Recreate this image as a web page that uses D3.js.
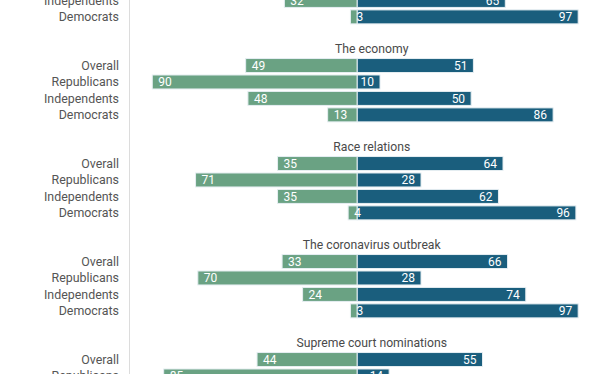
<!DOCTYPE html>
<html>
<head>
<meta charset="utf-8">
<script src="https://cdn.jsdelivr.net/npm/d3@7"></script>
<style>
  body { margin: 0; background: #fff; }
  svg { display: block; font-family: Roboto, "Open Sans", sans-serif; }
</style>
</head>
<body>
<div id="chart"></div>
<script>
// groups (the first title is above the visible area)
var groups = ["", "The economy", "Race relations", "The coronavirus outbreak", "Supreme court nominations"];
var categories = ["Overall", "Republicans", "Independents", "Democrats"];

// left (green) and right (blue) shares, per group, per category; null = not visible
var greenValues = [
    [null, null, 32, 3],
    [49, 90, 48, 13],
    [35, 71, 35, 4],
    [33, 70, 24, 3],
    [44, 85, null, null]
];
var blueValues = [
    [null, null, 65, 97],
    [51, 10, 50, 86],
    [64, 28, 62, 96],
    [66, 28, 74, 97],
    [55, 14, null, null]
];

var width = 612;
var height = 374;

var svg = d3.select("#chart").append("svg").attr("width", width).attr("height", height);

var x = d3.scaleLinear().domain([-100, 100]).range([129.5, 585]);

// group band: start of each band = title centre
var yGroup = d3.scaleBand().domain(groups).range([-50, -50 + groups.length * 98]);
var yRow = d3.scaleBand().domain(categories).range([9.3, 75.1]).paddingInner(0.15).paddingOuter(0.075);

var green = "#6aa283";
var blue = "#1a5e7d";

// vertical line at left
svg.append("line")
    .attr("x1", x(-100)).attr("x2", x(-100))
    .attr("y1", 0).attr("y2", height)
    .attr("stroke", "#dcdcdc")
    .attr("stroke-width", 1);

var rows = [];
groups.forEach(function (g, gi) {
    categories.forEach(function (c, ci) {
        rows.push({group: g, cat: c, green: greenValues[gi][ci], blue: blueValues[gi][ci]});
    });
});

function rowY(d) {
    return yGroup(d.group) + yRow(d.cat);
}

// titles
svg.selectAll(".title")
    .data(groups.filter(function (g) { return g !== ""; }))
    .enter()
    .append("text")
    .attr("class", "title")
    .attr("x", (x(-100) + width) / 2 + 1)
    .attr("y", function (g) { return yGroup(g) + 0.8; })
    .attr("dy", "0.35em")
    .attr("text-anchor", "middle")
    .attr("fill", "#4a4a4a")
    .attr("font-size", "12.2px")
    .text(function (g) { return g; });

var visible = rows.filter(function (d) { return d.green !== null; });

// row labels
svg.selectAll(".rowlabel")
    .data(visible)
    .enter()
    .append("text")
    .attr("class", "rowlabel")
    .attr("x", 119)
    .attr("y", function (d) { return rowY(d) + yRow.bandwidth() / 2; })
    .attr("dy", "0.35em")
    .attr("text-anchor", "end")
    .attr("fill", "#555")
    .attr("font-size", "12.4px")
    .text(function (d) { return d.cat; });

// green bars
svg.selectAll(".gbar")
    .data(visible)
    .enter()
    .append("rect")
    .attr("class", "gbar")
    .attr("fill", green)
    .attr("stroke", "#e6eef2")
    .attr("stroke-width", 1)
    .attr("x", function (d) { return x(-d.green); })
    .attr("y", rowY)
    .attr("width", function (d) { return x(0) - x(-d.green); })
    .attr("height", yRow.bandwidth());

// blue bars
svg.selectAll(".bbar")
    .data(visible)
    .enter()
    .append("rect")
    .attr("class", "bbar")
    .attr("fill", blue)
    .attr("stroke", "#e6eef2")
    .attr("stroke-width", 1)
    .attr("x", x(0))
    .attr("y", rowY)
    .attr("width", function (d) { return x(d.blue) - x(0); })
    .attr("height", yRow.bandwidth());

// green values
svg.selectAll(".gtext")
    .data(visible)
    .enter()
    .append("text")
    .attr("class", "gtext")
    .attr("fill", "white")
    .attr("font-size", "12px")
    .attr("text-anchor", "start")
    .attr("x", function (d) { return x(-d.green) + 6; })
    .attr("y", function (d) { return rowY(d) + yRow.bandwidth() / 2; })
    .attr("dy", "0.36em")
    .text(function (d) { return d.green; });

// blue values
svg.selectAll(".btext")
    .data(visible)
    .enter()
    .append("text")
    .attr("class", "btext")
    .attr("fill", "white")
    .attr("font-size", "12px")
    .attr("text-anchor", "end")
    .attr("x", function (d) { return x(d.blue) - 6; })
    .attr("y", function (d) { return rowY(d) + yRow.bandwidth() / 2; })
    .attr("dy", "0.36em")
    .text(function (d) { return d.blue; });
</script>
</body>
</html>
